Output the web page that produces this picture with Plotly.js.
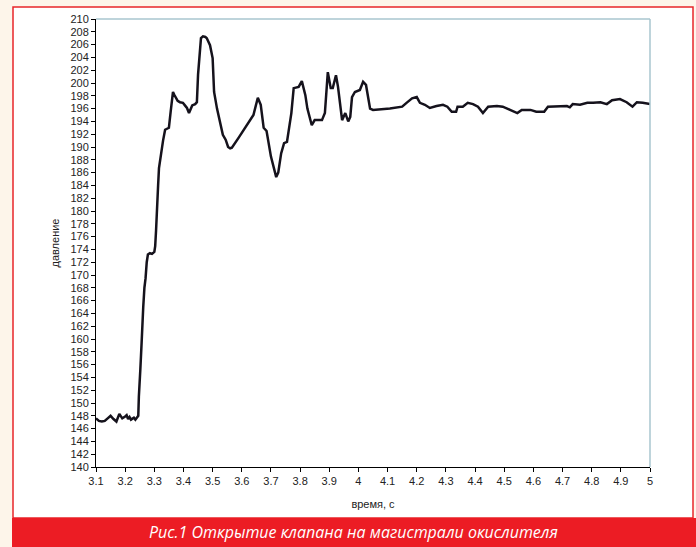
<!DOCTYPE html>
<html>
<head>
<meta charset="utf-8">
<script src="https://cdn.plot.ly/plotly-3.0.1.min.js"></script>
<style>
html,body{margin:0;padding:0;background:#fdf5ea;}
#chart{width:696px;height:547px;}
</style>
</head>
<body>
<div id="chart"></div>
<script>
// time, s
const time = [
3.100,3.105,3.110,3.120,3.130,3.140,3.150,3.160,3.170,3.180,3.185,3.190,3.200,3.205,3.210,3.215,3.220,3.230,3.235,3.240,3.245,
3.247,3.250,3.252,3.256,3.258,3.262,3.266,3.270,3.274,3.278,3.285,3.292,3.300,3.303,3.306,3.309,3.313,3.316,3.323,3.330,3.337,3.350,
3.356,3.360,3.364,3.368,3.374,3.380,3.388,3.398,3.405,3.412,3.419,3.425,3.430,3.440,3.446,3.450,3.455,3.460,3.467,3.475,3.480,3.491,
3.500,3.505,3.515,3.525,3.535,3.545,3.553,3.560,3.566,3.590,3.620,3.640,3.655,3.665,3.675,3.685,3.700,3.718,3.725,3.735,3.745,3.755,
3.770,3.778,3.795,3.806,3.818,3.825,3.840,3.850,3.875,3.885,3.895,3.905,3.912,3.923,3.930,3.944,3.955,3.965,3.972,3.978,3.988,4.005,
4.016,4.026,4.040,4.050,4.108,4.150,4.165,4.184,4.200,4.211,4.228,4.245,4.268,4.290,4.305,4.320,4.335,4.340,4.358,4.375,4.393,4.410,
4.427,4.445,4.475,4.495,4.520,4.545,4.560,4.590,4.610,4.637,4.650,4.680,4.715,4.725,4.735,4.760,4.785,4.805,4.830,4.852,4.870,4.897,
4.920,4.940,4.955,4.975,5.000
];
// pressure
const pressure = [
147.6,147.4,147.2,147.1,147.2,147.6,148.0,147.5,147.1,148.3,148.0,147.6,147.9,148.1,147.5,147.8,147.4,147.7,147.4,147.8,148.0,
151.0,154.8,155.2,159.0,162.2,165.0,168.0,169.5,172.0,173.2,173.4,173.3,173.6,174.5,177.0,181.0,184.0,186.7,189.2,191.0,192.7,193.0,
195.5,197.0,198.6,198.2,197.7,197.2,197.0,196.9,196.5,196.1,195.3,195.9,196.5,196.7,197.0,201.3,204.5,207.0,207.3,207.2,207.0,205.9,
203.9,198.6,196.0,194.0,191.9,191.1,190.0,189.8,189.9,191.5,193.6,195.0,197.7,196.6,193.0,192.5,188.5,185.3,186.0,189.0,190.6,190.8,
195.3,199.2,199.4,200.3,198.1,196.0,193.4,194.2,194.2,195.3,201.7,199.2,199.2,201.2,199.4,194.2,195.3,194.0,194.7,197.8,198.6,198.9,
200.2,199.7,196.0,195.8,196.0,196.3,196.9,197.6,197.8,196.9,196.6,196.1,196.4,196.6,196.3,195.5,195.5,196.3,196.3,196.9,196.7,196.3,
195.3,196.3,196.4,196.3,195.8,195.3,195.8,195.8,195.5,195.5,196.3,196.3,196.4,196.2,196.7,196.6,196.9,196.9,197.0,196.7,197.3,197.5,
197.0,196.3,197.0,196.9,196.7
];
const xTitle = "время, с";
const yTitle = "давление";
const caption = "Рис.1 Открытие клапана на магистрали окислителя";

// pixel -> paper helpers (plot area: left 96, right 650, top 19, bottom 467)
const L=96,R=650,T=19,B=467;
const px = v => (v-L)/(R-L);
const py = v => (B-v)/(B-T);

const trace = {
  x: time, y: pressure, type: 'scatter', mode: 'lines',
  line: {color: '#15121c', width: 2.5, shape: 'linear'},
  hoverinfo: 'x+y'
};

const tickFont = {family: 'Liberation Sans, Arial, sans-serif', size: 11, color: '#222'};

const layout = {
  width: 696, height: 547,
  margin: {l: L, r: 696-R, t: T, b: 547-B, pad: 0},
  paper_bgcolor: '#fdf5ea',
  plot_bgcolor: '#ffffff',
  showlegend: false,
  xaxis: {
    range: [3.1, 5], dtick: 0.1, tick0: 3.1,
    showgrid: false, zeroline: false,
    showline: true, linecolor: '#000', linewidth: 1,
    ticks: 'outside', ticklen: 4, tickcolor: '#000', tickwidth: 1,
    tickfont: tickFont,
    title: {text: xTitle, font: {family: 'Liberation Sans, Arial, sans-serif', size: 11, color: '#222'}, standoff: 14},
    automargin: false
  },
  yaxis: {
    range: [140, 210], dtick: 2, tick0: 140,
    showgrid: false, zeroline: false,
    showline: true, linecolor: '#000', linewidth: 1,
    ticks: 'outside', ticklen: 4, tickcolor: '#000', tickwidth: 1,
    tickfont: tickFont,
    title: {text: yTitle, font: {family: 'Liberation Sans, Arial, sans-serif', size: 11, color: '#222'}, standoff: 8},
    automargin: false
  },
  shapes: [
    {type: 'rect', xref: 'paper', yref: 'paper', layer: 'below',
     x0: px(13), x1: px(693), y0: py(518), y1: py(7),
     fillcolor: '#ffffff', line: {color: '#e8262a', width: 1.5}},
    {type: 'rect', xref: 'paper', yref: 'paper', layer: 'below',
     x0: px(12), x1: px(700), y0: py(550), y1: py(518),
     fillcolor: '#ec1c24', line: {width: 0}},
    {type: 'line', xref: 'paper', yref: 'paper', x0: 0, x1: 1, y0: 1, y1: 1,
     line: {color: '#a9c6cf', width: 1.5}},
    {type: 'line', xref: 'paper', yref: 'paper', x0: 1, x1: 1, y0: 0, y1: 1,
     line: {color: '#a9c6cf', width: 1.5}}
  ],
  annotations: [
    {text: caption, xref: 'paper', yref: 'paper', x: px(353), y: py(532),
     xanchor: 'center', yanchor: 'middle', showarrow: false,
     font: {family: 'Open Sans, Lato, sans-serif', size: 16, color: '#ffffff', style: 'italic'}}
  ]
};

Plotly.newPlot('chart', [trace], layout, {displayModeBar: false, staticPlot: true});
</script>
</body>
</html>
